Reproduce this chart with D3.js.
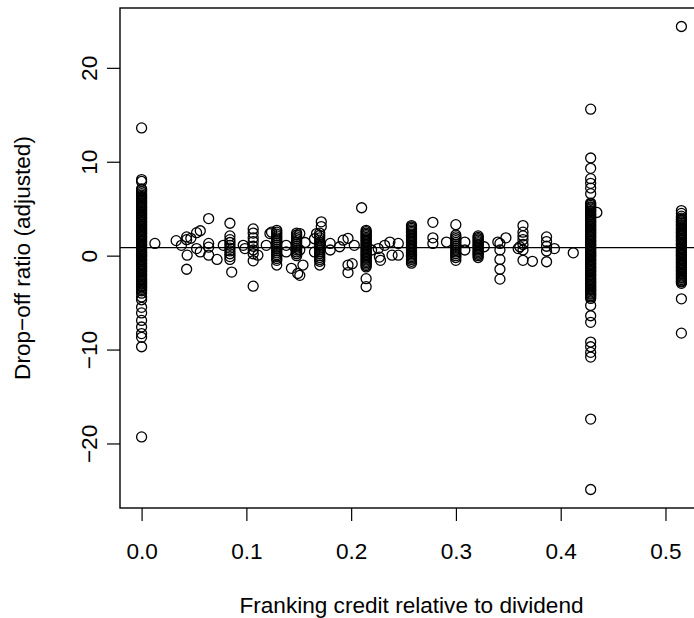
<!DOCTYPE html>
<html>
<head>
<meta charset="utf-8">
<script src="https://cdn.jsdelivr.net/npm/d3@7"></script>
<style>
  body { margin: 0; background: #fff; }
  svg { display: block; font-family: "Liberation Sans", Arial, Helvetica, sans-serif; }
</style>
</head>
<body>
<div id="chart"></div>
<script>
// franking credit / dividend for fully franked divs at 30% and 34% company tax
const xUnfranked = 0;
const xFull30 = 0.4286;
const xFull34 = 0.5152;

// drop-off ratios
const yUnfranked = [13.6, 8.1, 7.9, 7.1, 7.0, 6.8,
  6.6, 6.45, 6.3, 6.2, 6.05, 5.9, 5.75, 5.65, 5.5, 5.35, 5.2, 5.1, 4.95, 4.8, 4.7,
  4.55, 4.4, 4.3, 4.15, 4.0, 3.9, 3.75, 3.6, 3.5, 3.35, 3.2, 3.1, 2.95, 2.8, 2.7,
  2.55, 2.4, 2.3, 2.15, 2.0, 1.9, 1.75, 1.6, 1.5, 1.35, 1.2, 1.1, 0.95, 0.8, 0.7,
  0.55, 0.4, 0.3, 0.15, 0.0, -0.1, -0.25, -0.4, -0.5, -0.65, -0.8, -0.9, -1.05,
  -1.2, -1.3, -1.45, -1.6, -1.7, -1.85, -2.0, -2.1, -2.25, -2.4, -2.5, -2.65, -2.8,
  -2.9, -3.05, -3.2, -3.3, -3.45, -3.6, -3.75,
  -4.0, -4.4, -4.7, -5.5, -6.1, -6.9, -7.6, -8.3, -8.7, -9.7, -19.3];

const yFull30 = [15.6, 10.4, 9.3, 8.2, 7.7, 7.2, 6.6, 5.6,
  5.5, 5.35, 5.2, 5.1, 4.95, 4.8, 4.7, 4.55, 4.4, 4.3, 4.15, 4.0, 3.9, 3.75, 3.6,
  3.5, 3.35, 3.2, 3.1, 2.95, 2.8, 2.7, 2.55, 2.4, 2.3, 2.15, 2.0, 1.9, 1.75, 1.6,
  1.5, 1.35, 1.2, 1.1, 0.95, 0.8, 0.7, 0.55, 0.4, 0.3, 0.15, 0.0, -0.1, -0.25,
  -0.4, -0.5, -0.65, -0.8, -0.9, -1.05, -1.2, -1.3, -1.45, -1.6, -1.7, -1.85, -2.0,
  -2.1, -2.25, -2.4, -2.5, -2.65, -2.8, -2.9, -3.05, -3.2, -3.3, -3.45, -3.6, -3.7,
  -3.85, -4.0, -4.1, -4.25, -4.4, -4.55,
  -5.3, -6.4, -7.1, -9.2, -9.7, -10.3, -10.8, -17.4, -24.9];

const yFull34 = [24.4, 4.8, 4.5, 4.2,
  4.0, 3.85, 3.7, 3.6, 3.45, 3.3, 3.2, 3.05, 2.9, 2.8, 2.65, 2.5, 2.4, 2.25, 2.1,
  2.0, 1.85, 1.7, 1.6, 1.45, 1.3, 1.2, 1.05, 0.9, 0.8, 0.65, 0.5, 0.4, 0.25, 0.1,
  0.0, -0.15, -0.3, -0.4, -0.55, -0.7, -0.8, -0.95, -1.1, -1.2, -1.35, -1.5, -1.6,
  -1.75, -1.9, -2.0, -2.15, -2.3, -2.4, -2.55, -2.7, -2.8, -2.95,
  -4.6, -8.25];

// partly franked dividends: [franking ratio, drop-off ratio]
const partial = [
  [0.0127, 1.3], [0.033, 1.6], [0.038, 1.1], [0.043, 2.0], [0.043, 1.7], [0.0435, 0.05],
  [0.043, -1.45], [0.047, 1.85], [0.0525, 2.45], [0.056, 2.65], [0.0525, 0.75], [0.056, 0.4],
  [0.064, 3.95], [0.064, 1.3], [0.064, 0.9], [0.064, 0.05], [0.072, -0.4], [0.078, 1.1],
  [0.0843, 3.45], [0.0843, 2.1], [0.0843, 1.7], [0.0843, 1.4], [0.0843, 1.1], [0.0843, 0.8],
  [0.0843, 0.5], [0.0843, 0.2], [0.0843, -0.1], [0.0843, -0.4], [0.086, -1.75],
  [0.097, 1.1], [0.0986, 0.75],
  [0.1065, 2.85], [0.1065, 2.4], [0.1065, 1.9], [0.1065, 1.5], [0.1065, 1.0], [0.1065, 0.6],
  [0.1065, 0.2], [0.1065, -0.55], [0.1065, -3.25], [0.111, 0.05], [0.119, 1.1], [0.1225, 2.35],
  [0.124, 2.5], [0.129, 2.7], [0.129, 2.5], [0.129, 2.3], [0.129, 2.1], [0.129, 1.9],
  [0.129, 1.7], [0.129, 1.5], [0.129, 1.3], [0.129, 1.1], [0.129, 0.9], [0.129, 0.7],
  [0.129, 0.5], [0.129, 0.3], [0.129, 0.1], [0.129, -0.1], [0.129, -0.3], [0.129, -0.5],
  [0.129, -1.0], [0.138, 1.1], [0.138, 0.4], [0.143, -1.35],
  [0.148, 2.4], [0.148, 2.2], [0.148, 2.0], [0.148, 1.8], [0.148, 1.6], [0.148, 1.4],
  [0.148, 1.2], [0.148, 1.0], [0.148, 0.8], [0.148, 0.6], [0.148, 0.4], [0.148, 0.2],
  [0.148, 0.0], [0.149, -1.9], [0.151, 2.35], [0.151, 0.6], [0.151, -2.1], [0.154, -1.0],
  [0.156, 1.4], [0.165, 1.8], [0.165, 0.4], [0.167, 2.35],
  [0.1715, 3.6], [0.1715, 3.1], [0.17, 2.4], [0.17, 2.15], [0.17, 1.9], [0.17, 1.65],
  [0.17, 1.4], [0.17, 1.2], [0.17, 1.0], [0.17, 0.8], [0.17, 0.6], [0.17, 0.4], [0.17, 0.2],
  [0.17, 0.0], [0.17, -0.2], [0.17, -0.4], [0.17, -0.6], [0.17, -1.0],
  [0.18, 1.3], [0.18, 0.6], [0.189, 0.95], [0.1924, 1.65], [0.197, 1.85], [0.197, -1.0],
  [0.197, -1.8], [0.201, -0.85], [0.203, 1.1], [0.21, 5.1],
  [0.2143, 2.7], [0.2143, 2.55], [0.2143, 2.4], [0.2143, 2.25], [0.2143, 2.1], [0.2143, 1.95],
  [0.2143, 1.8], [0.2143, 1.65], [0.2143, 1.5], [0.2143, 1.35], [0.2143, 1.2], [0.2143, 1.05],
  [0.2143, 0.9], [0.2143, 0.75], [0.2143, 0.6], [0.2143, 0.45], [0.2143, 0.3], [0.2143, 0.15],
  [0.2143, 0.0], [0.2143, -0.15], [0.2143, -0.3], [0.2143, -0.45], [0.2143, -0.6],
  [0.2143, -0.75], [0.2143, -0.9], [0.2143, -1.05], [0.2143, -1.2], [0.2143, -2.45], [0.2143, -3.3],
  [0.2195, 0.6], [0.2258, 0.75], [0.227, -0.15], [0.228, -0.5], [0.232, 1.1], [0.237, 1.45],
  [0.239, 0.05], [0.245, 1.3], [0.245, 0.05],
  [0.2576, 3.2], [0.2576, 3.05], [0.2576, 2.9], [0.2576, 2.75], [0.2576, 2.6], [0.2576, 2.45],
  [0.2576, 2.3], [0.2576, 2.15], [0.2576, 2.0], [0.2576, 1.85], [0.2576, 1.7], [0.2576, 1.55],
  [0.2576, 1.4], [0.2576, 1.25], [0.2576, 1.1], [0.2576, 0.95], [0.2576, 0.8], [0.2576, 0.65],
  [0.2576, 0.5], [0.2576, 0.35], [0.2576, 0.2], [0.2576, 0.05], [0.2576, -0.1], [0.2576, -0.25],
  [0.2576, -0.4], [0.2576, -0.6], [0.2576, -0.8],
  [0.278, 3.55], [0.278, 1.9], [0.278, 1.3], [0.291, 1.45],
  [0.2999, 3.3], [0.2999, 2.2], [0.2999, 2.0], [0.2999, 1.8], [0.2999, 1.6], [0.2999, 1.4],
  [0.2999, 1.2], [0.2999, 1.0], [0.2999, 0.8], [0.2999, 0.6], [0.2999, 0.4], [0.2999, 0.2],
  [0.2999, 0.0], [0.2999, -0.2], [0.2999, -0.5], [0.3085, 1.45], [0.3085, 0.6],
  [0.3212, 2.1], [0.3212, 1.95], [0.3212, 1.8], [0.3212, 1.65], [0.3212, 1.5], [0.3212, 1.35],
  [0.3212, 1.2], [0.3212, 1.05], [0.3212, 0.9], [0.3212, 0.75], [0.3212, 0.6], [0.3212, 0.45],
  [0.3212, 0.3], [0.3212, 0.15], [0.3212, 0.0], [0.3212, -0.2], [0.327, 0.95],
  [0.34, 1.45], [0.342, 1.3], [0.342, 0.6], [0.342, -0.4], [0.342, -1.45], [0.342, -2.5],
  [0.3477, 1.9], [0.3594, 0.75], [0.361, 0.95],
  [0.364, 3.2], [0.364, 2.5], [0.364, 2.1], [0.364, 1.7], [0.364, 1.2], [0.364, 0.6], [0.364, -0.5],
  [0.373, -0.6], [0.3865, 2.0], [0.3865, 1.5], [0.3865, 1.0], [0.3865, 0.5], [0.3865, -0.65],
  [0.394, 0.75], [0.412, 0.3], [0.4345, 4.6]
];

const xTicks = [0, 0.1, 0.2, 0.3, 0.4, 0.5];
const yTicks = [-20, -10, 0, 10, 20];
const meanLine = 0.86; // horizontal reference line

const width = 694, height = 618;
const plotL = 120, plotR = 703, plotT = 8, plotB = 508; // right edge runs off the page
const fontSize = 22.6;

// all points in one list for drawing
const points = []
  .concat(yUnfranked.map(y => [xUnfranked, y]))
  .concat(yFull30.map(y => [xFull30, y]))
  .concat(yFull34.map(y => [xFull34, y]))
  .concat(partial);

// R style 4% padding on both axes
const xExt = d3.extent(points, d => d[0]);
const yExt = d3.extent(points, d => d[1]);
const xPad = (xExt[1] - xExt[0]) * 0.04, yPad = (yExt[1] - yExt[0]) * 0.04;

const x = d3.scaleLinear().domain([xExt[0] - xPad, xExt[1] + xPad]).range([plotL, plotR]);
const y = d3.scaleLinear().domain([yExt[0] - yPad, yExt[1] + yPad]).range([plotB, plotT]);

const svg = d3.select('#chart').append('svg')
  .attr('width', width)
  .attr('height', height);

svg.append('g')
  .selectAll('circle')
  .data(points)
  .join('circle')
  .attr('cx', d => x(d[0]))
  .attr('cy', d => y(d[1]))
  .attr('r', 5)
  .attr('fill', 'none')
  .attr('stroke', '#000')
  .attr('stroke-width', 1.3);

svg.append('line')
  .attr('x1', plotL).attr('x2', plotR)
  .attr('y1', y(meanLine)).attr('y2', y(meanLine))
  .attr('stroke', '#000').attr('stroke-width', 1.1);

svg.append('rect')
  .attr('x', plotL).attr('y', plotT)
  .attr('width', plotR - plotL).attr('height', plotB - plotT)
  .attr('fill', 'none').attr('stroke', '#000').attr('stroke-width', 1.4);

// x axis
const xAxis = svg.append('g')
  .attr('transform', `translate(0,${plotB})`)
  .call(d3.axisBottom(x).tickValues(xTicks).tickSize(13).tickPadding(22).tickFormat(d3.format('.1f')));
xAxis.select('.domain').remove();

// y axis, labels turned like R does
const yAxis = svg.append('g')
  .attr('transform', `translate(${plotL},0)`)
  .call(d3.axisLeft(y).tickValues(yTicks).tickSize(13).tickFormat(d => d < 0 ? '\u2212' + Math.abs(d) : d));
yAxis.select('.domain').remove();
yAxis.selectAll('text')
  .attr('x', 0).attr('y', 0).attr('dy', 0)
  .attr('text-anchor', 'middle')
  .attr('transform', 'translate(-23,0) rotate(-90)');

svg.selectAll('.tick line').attr('stroke', '#000').attr('stroke-width', 1.2);
svg.selectAll('.tick text').attr('font-size', fontSize).attr('fill', '#000')
  .attr('font-family', '"Liberation Sans", Arial, sans-serif');

svg.append('text')
  .attr('x', (plotL + plotR) / 2).attr('y', 613)
  .attr('text-anchor', 'middle')
  .attr('font-size', fontSize)
  .text('Franking credit relative to dividend');

svg.append('text')
  .attr('transform', `translate(30,${(plotT + plotB) / 2}) rotate(-90)`)
  .attr('text-anchor', 'middle')
  .attr('font-size', fontSize)
  .text('Drop\u2212off ratio (adjusted)');
</script>
</body>
</html>
